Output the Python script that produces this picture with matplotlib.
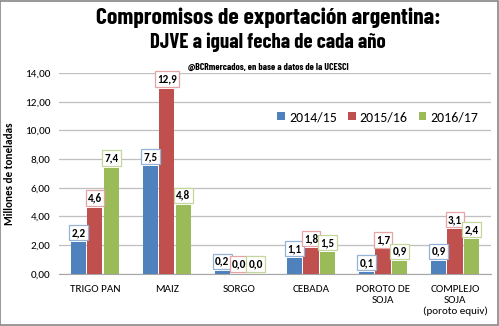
import numpy as np
import matplotlib.pyplot as plt

# datos (millones de toneladas)
categorias = ["TRIGO PAN", "MAIZ", "SORGO", "CEBADA", "POROTO DE\nSOJA",
              "COMPLEJO\nSOJA\n(poroto equiv)"]
campanas = ["2014/15", "2015/16", "2016/17"]
v_1415 = [2.2, 7.5, 0.2, 1.1, 0.1, 0.9]
v_1516 = [4.6, 12.9, 0.0, 1.8, 1.7, 3.1]
v_1617 = [7.4, 4.8, 0.0, 1.5, 0.9, 2.4]
yticks = [0, 2, 4, 6, 8, 10, 12, 14]

colores = ["#4F81BD", "#C0504D", "#9BBB59"]
bordes = ["#95B3D7", "#E6A5A4", "#C3D69B"]

plt.rcParams['font.family'] = ['Carlito', 'Lato', 'DejaVu Sans']
titulo_font = ['Barlow Condensed', 'DejaVu Sans']

fig = plt.figure(figsize=(4.99, 3.26), dpi=100)
ax = fig.add_axes([0.118, 0.160, 0.866, 0.616])

x = np.arange(len(categorias))
ancho = 0.21
paso = 0.23
series = [v_1415, v_1516, v_1617]
for i, vals in enumerate(series):
    pos = x + (i - 1) * paso
    ax.bar(pos, vals, ancho, color=colores[i], label=campanas[i], zorder=3)
    for px, v in zip(pos, vals):
        ax.annotate(f"{v:.1f}".replace(".", ","), (px, v), xytext=(0, 3),
                    textcoords="offset points", ha="center", va="bottom",
                    fontsize=8, fontweight="bold", zorder=5,
                    bbox=dict(boxstyle="square,pad=0.2", fc="white",
                              ec=bordes[i], lw=0.9))

ax.set_xlim(-0.5, len(categorias) - 0.5)
ax.set_ylim(0, 14)
ax.set_yticks(yticks)
ax.set_yticklabels([f"{t:.2f}".replace(".", ",") for t in yticks], fontsize=8)
ax.set_xticks(x)
ax.set_xticklabels(categorias, fontsize=8, linespacing=1.25, va="top")
ax.tick_params(axis="y", length=0, pad=6)
ax.tick_params(axis="x", length=0, pad=8)
ax.grid(axis="y", color="#BFBFBF", lw=0.9, zorder=0)
for s in ["top", "right", "left"]:
    ax.spines[s].set_visible(False)
ax.spines["bottom"].set_color("#A6A6A6")
ax.set_ylabel("Millones de toneladas", fontsize=8, fontweight="bold", labelpad=7)

ax.legend(loc="center right", bbox_to_anchor=(1.0, 0.78), ncol=3, frameon=False,
          fontsize=10, handlelength=0.55, handleheight=0.55, handletextpad=0.3,
          columnspacing=0.8)

fig.text(0.537, 0.945, "Compromisos de exportación argentina:", ha="center",
         va="center", fontsize=17, fontweight="bold", family=titulo_font)
fig.text(0.537, 0.869, "DJVE a igual fecha de cada año", ha="center",
         va="center", fontsize=15, fontweight="bold", family=titulo_font)
fig.text(0.537, 0.795, "@BCRmercados, en base a datos de la UCESCI", ha="center",
         va="center", fontsize=7, fontweight="bold", family=titulo_font)

# borde del gráfico
fig.patches.append(plt.Rectangle((0.001, 0.002), 0.997, 0.995, transform=fig.transFigure,
                                 fill=False, ec="#868686", lw=1.2))

fig.savefig("out.png", dpi=100)
